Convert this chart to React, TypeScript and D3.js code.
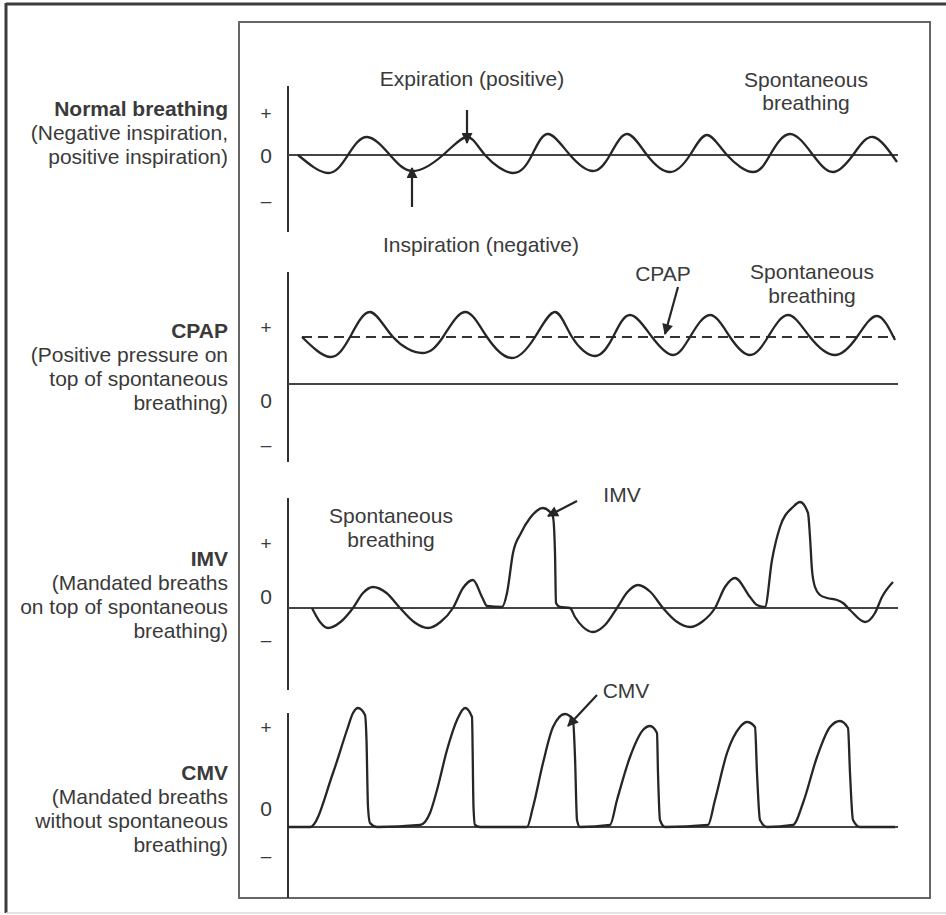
import React from "react";
import * as d3 from "d3";

// ---------- DATA ----------
// time in seconds, pressure in arbitrary units (0 = atmospheric)
const timeDomain: [number, number] = [0, 6.1];

const tickLabels = ["+", "0", "–"];

const normalBreathing: [number, number][] = [
  [0.1, 0], [0.4, -1.8], [0.6, 0], [0.79, 1.8], [1.02, 0], [1.25, -1.6], [1.55, 0],
  [1.79, 1.8], [1.97, 0], [2.25, -1.8], [2.44, 0], [2.6, 2.1], [2.82, 0], [3.05, -1.6],
  [3.22, 0], [3.39, 2.1], [3.59, 0], [3.82, -1.7], [4.02, 0], [4.19, 2.0], [4.39, 0],
  [4.65, -1.7], [4.82, 0], [5.02, 2.1], [5.25, 0], [5.45, -1.7], [5.65, 0], [5.85, 1.8],
  [6.09, -0.7],
];
const normalTicks = [4.2, 0, -4.5];

const cpapLevel = 4.7;
const cpapBreathing: [number, number][] = [
  [0.14, 4.7], [0.42, 2.7], [0.62, 4.7], [0.82, 7.2], [1.05, 4.7], [1.34, 3.1], [1.55, 4.7],
  [1.77, 7.2], [1.99, 4.7], [2.24, 2.6], [2.47, 4.7], [2.67, 7.2], [2.84, 4.7], [3.07, 2.8],
  [3.25, 4.7], [3.42, 6.9], [3.64, 4.7], [3.85, 2.9], [4.02, 4.7], [4.22, 6.9], [4.42, 4.7],
  [4.62, 2.9], [4.8, 4.7], [5.0, 6.9], [5.22, 4.7], [5.47, 2.9], [5.69, 4.7], [5.89, 6.8],
  [6.07, 4.4],
];
const cpapTicks = [5.7, -1.6, -6.0];

const imvBreathing: [number, number][] = [
  [0.24, 0], [0.32, -1.4], [0.4, -2.0], [0.525, -1.4], [0.65, 0], [0.75, 1.5], [0.85, 2.1],
  [0.985, 1.5], [1.12, 0], [1.26, -1.4], [1.4, -2.0], [1.525, -1.4], [1.65, 0], [1.75, 2.0],
  [1.85, 2.8], [1.94, 1.1], [1.99, 0.2], [2.14, 0.1], [2.19, 1.5], [2.25, 5.5], [2.33, 7.5],
  [2.42, 9.0], [2.55, 10.0], [2.62, 9.6], [2.65, 9.1], [2.67, 5.5], [2.68, 0.5], [2.72, 0.1],
  [2.82, 0], [2.87, -0.9], [2.95, -1.9], [3.05, -2.4], [3.17, -1.7], [3.29, 0], [3.395, 1.6],
  [3.5, 2.3], [3.625, 1.6], [3.75, 0], [3.885, -1.35], [4.02, -1.9], [4.145, -1.35], [4.27, 0],
  [4.37, 2.1], [4.47, 3.0], [4.62, 1.1], [4.69, 0.3], [4.77, 0.1], [4.84, 4.8], [4.92, 8.1],
  [5.05, 10.1], [5.12, 10.6], [5.2, 9.5], [5.22, 7.1], [5.24, 3.8], [5.27, 2.1], [5.32, 1.3],
  [5.39, 1.0], [5.49, 0.8], [5.55, 0.5], [5.62, -0.2], [5.77, -1.4], [5.87, -0.5], [5.94, 1.1],
  [6.05, 2.6],
];
const imvTicks = [6.5, 1.2, -3.1];

const cmvBreathing: [number, number][] = [
  [0.0, 0], [0.22, 0], [0.45, 5.4], [0.59, 9.7], [0.65, 11.4], [0.7, 11.9], [0.77, 11.2],
  [0.785, 8.7], [0.8, 2.0], [0.82, 0.4], [0.89, 0],
  [1.32, 0.2], [1.42, 1.4], [1.49, 3.7], [1.59, 7.7], [1.69, 10.7], [1.77, 11.9], [1.84, 11.0],
  [1.855, 2.0], [1.87, 0.2], [1.92, 0],
  [2.39, 0], [2.45, 2.0], [2.55, 6.4], [2.65, 10.0], [2.77, 11.3], [2.85, 10.7], [2.87, 7.0],
  [2.89, 0.7], [2.92, 0],
  [3.22, 0.2], [3.29, 2.7], [3.42, 7.0], [3.55, 9.7], [3.62, 10.1], [3.69, 9.4], [3.7, 5.4],
  [3.72, 0.7], [3.77, 0],
  [4.2, 0.2], [4.27, 2.7], [4.39, 7.4], [4.52, 10.0], [4.59, 10.5], [4.67, 10.0], [4.69, 5.4],
  [4.72, 0.7], [4.79, 0],
  [5.05, 0.2], [5.15, 2.4], [5.29, 7.0], [5.42, 10.0], [5.52, 10.6], [5.6, 9.9], [5.62, 5.4],
  [5.65, 0.7], [5.72, 0], [6.07, 0],
];
const cmvTicks = [10.0, 1.9, -2.8];

// arrows: [t0, v0, t1, v1] (tail -> head) in each panel's data units
const normalArrows: number[][] = [
  [1.79, 4.5, 1.79, 1.2],
  [1.24, -5.2, 1.24, -1.3],
];
const cpapArrows: number[][] = [[3.9, 9.7, 3.77, 5.0]];
const imvArrows: number[][] = [[2.89, 10.7, 2.6, 9.2]];
const cmvArrows: number[][] = [[3.09, 13.2, 2.8, 10.1]];

const panelTitles = ["Normal breathing", "CPAP", "IMV", "CMV"];
const panelSubtitles = [
  ["(Negative inspiration,", "positive inspiration)"],
  ["(Positive pressure on", "top of spontaneous", "breathing)"],
  ["(Mandated breaths", "on top of spontaneous", "breathing)"],
  ["(Mandated breaths", "without spontaneous", "breathing)"],
];

// ---------- LAYOUT ----------
const W = 946;
const H = 915;
const X0 = 288;
const X1 = 898;
const FONT = "'Liberation Sans', Arial, Helvetica, sans-serif";
const TEXT = "#3a3a3a";
const INK = "#262626";

const panelLayout = [
  { axisTop: 86, axisBottom: 232, domain: [-7.7, 6.9], titleY: 116, smooth: true },
  { axisTop: 272, axisBottom: 462, domain: [-7.8, 11.2], titleY: 338, smooth: true },
  { axisTop: 498, axisBottom: 690, domain: [-8.2, 11.0], titleY: 566, smooth: false },
  { axisTop: 713, axisBottom: 898, domain: [-7.1, 11.4], titleY: 780, smooth: false },
];

const panelSeries = [normalBreathing, cpapBreathing, imvBreathing, cmvBreathing];
const panelTicks = [normalTicks, cpapTicks, imvTicks, cmvTicks];
const panelArrows = [normalArrows, cpapArrows, imvArrows, cmvArrows];

const annotations: { text: string; x: number; y: number }[] = [
  { text: "Expiration (positive)", x: 472, y: 86 },
  { text: "Inspiration (negative)", x: 481, y: 252 },
  { text: "Spontaneous", x: 806, y: 87 },
  { text: "breathing", x: 806, y: 110 },
  { text: "CPAP", x: 663, y: 281 },
  { text: "Spontaneous", x: 812, y: 279 },
  { text: "breathing", x: 812, y: 303 },
  { text: "Spontaneous", x: 391, y: 523 },
  { text: "breathing", x: 391, y: 547 },
  { text: "IMV", x: 622, y: 502 },
  { text: "CMV", x: 626, y: 698 },
];

export default function App() {
  const x = d3.scaleLinear().domain(timeDomain).range([X0, X1]);

  return (
    <svg
      width={W}
      height={H}
      style={{ position: "absolute", left: 0, top: 0, background: "#fff" }}
      fontFamily={FONT}
    >
      <defs>
        <marker
          id="ah"
          viewBox="0 0 10 10"
          refX="9"
          refY="5"
          markerWidth="13"
          markerHeight="11"
          markerUnits="userSpaceOnUse"
          orient="auto"
        >
          <path d="M0,0 L10,5 L0,10 z" fill={INK} />
        </marker>
      </defs>

      {/* outer frame */}
      <line x1={6} y1={4} x2={946} y2={4} stroke="#3c3c3c" strokeWidth={3} />
      <line x1={6} y1={3} x2={6} y2={913} stroke="#3c3c3c" strokeWidth={3} />
      <line x1={6} y1={913} x2={946} y2={913} stroke="#d8d8d8" strokeWidth={1.5} />

      {/* inner box */}
      <rect x={239} y={22} width={691} height={876} fill="none" stroke="#666" strokeWidth={2} />

      {panelLayout.map((p, i) => {
        const y = d3.scaleLinear().domain(p.domain).range([p.axisBottom, p.axisTop]);
        const line = d3
          .line<[number, number]>()
          .x((d) => x(d[0]))
          .y((d) => y(d[1]))
          .curve(p.smooth ? d3.curveNatural : d3.curveMonotoneX);
        const series = panelSeries[i];
        const ticks = panelTicks[i];
        return (
          <g key={i}>
            {/* y axis */}
            <line x1={X0} x2={X0} y1={p.axisTop} y2={p.axisBottom} stroke="#333" strokeWidth={2} />
            {/* zero line */}
            <line x1={X0} x2={x(timeDomain[1])} y1={y(0)} y2={y(0)} stroke="#444" strokeWidth={1.8} />
            {/* tick labels */}
            {ticks.map((tv, k) => (
              <text
                key={k}
                x={266}
                y={y(tv)}
                textAnchor="middle"
                dominantBaseline="central"
                fontSize={k === 1 ? 21 : 19}
                fill={TEXT}
              >
                {tickLabels[k]}
              </text>
            ))}
            {i === 1 && (
              <line
                x1={x(cpapBreathing[0][0])}
                x2={x(cpapBreathing[cpapBreathing.length - 1][0])}
                y1={y(cpapLevel)}
                y2={y(cpapLevel)}
                stroke="#333"
                strokeWidth={2}
                strokeDasharray="10 6"
              />
            )}
            <path d={line(series) || ""} fill="none" stroke={INK} strokeWidth={2.3} strokeLinejoin="round" />
            {panelArrows[i].map((a, k) => (
              <line
                key={k}
                x1={x(a[0])}
                y1={y(a[1])}
                x2={x(a[2])}
                y2={y(a[3])}
                stroke={INK}
                strokeWidth={2.2}
                markerEnd="url(#ah)"
              />
            ))}
            {/* left labels */}
            <text x={228} y={p.titleY} textAnchor="end" fontSize={21} fontWeight="bold" fill={TEXT}>
              {panelTitles[i]}
            </text>
            {panelSubtitles[i].map((s, k) => (
              <text key={k} x={228} y={p.titleY + 24 * (k + 1)} textAnchor="end" fontSize={21} fill={TEXT}>
                {s}
              </text>
            ))}
          </g>
        );
      })}

      {annotations.map((a, k) => (
        <text key={k} x={a.x} y={a.y} textAnchor="middle" fontSize={21} fill={TEXT}>
          {a.text}
        </text>
      ))}
    </svg>
  );
}
